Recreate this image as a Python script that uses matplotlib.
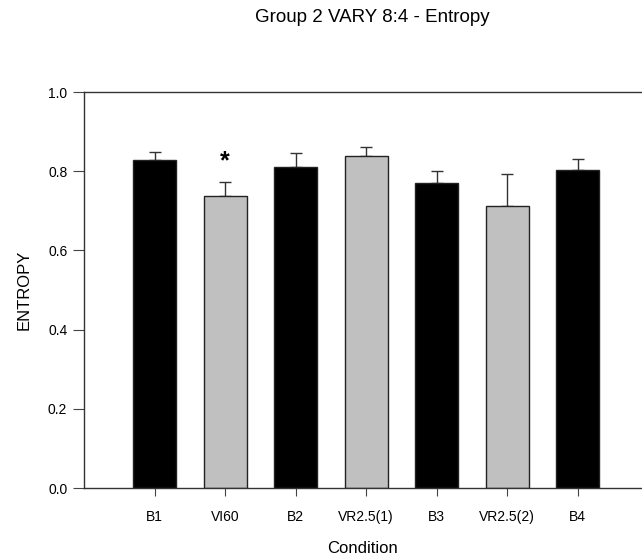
import matplotlib
matplotlib.use("Agg")
import matplotlib.pyplot as plt
import numpy as np

plt.rcParams['font.family'] = ['Liberation Sans', 'DejaVu Sans']

conditions = ['B1', 'VI60', 'B2', 'VR2.5(1)', 'B3', 'VR2.5(2)', 'B4']
entropy = [0.828, 0.737, 0.811, 0.838, 0.769, 0.712, 0.803]
sem = [0.020, 0.035, 0.036, 0.022, 0.032, 0.082, 0.029]
bar_colors = ['black', '#c0c0c0', 'black', '#c0c0c0', 'black', '#c0c0c0', 'black']
significant = [False, True, False, False, False, False, False]

fig = plt.figure(figsize=(6.42, 5.60), dpi=100)
ax = fig.add_axes([84 / 642, 72 / 560, 1 - 84 / 642, 396 / 560])

x = np.arange(1, len(conditions) + 1)
ax.bar(x, entropy, width=0.61, color=bar_colors, edgecolor='#222222', linewidth=1.0, zorder=2)
ax.errorbar(x, entropy, yerr=[np.zeros(len(sem)), sem], fmt='none', ecolor='#333333',
            elinewidth=1.0, capsize=4.5, capthick=1.0, zorder=1)

for xi, val, err, sig in zip(x, entropy, sem, significant):
    if sig:
        ax.text(xi, val + err + 0.052, '*', ha='center', va='center', fontsize=18, fontweight='bold')

ax.set_xlim(0, 7.91)
ax.set_ylim(0, 1.0)
ax.set_yticks([0.0, 0.2, 0.4, 0.6, 0.8, 1.0])
ax.set_yticklabels(['0.0', '0.2', '0.4', '0.6', '0.8', '1.0'])
ax.set_xticks(x)
ax.set_xticklabels(conditions)
ax.tick_params(axis='both', direction='out', labelsize=10, color='#444444')
ax.tick_params(axis='y', length=8, pad=4)
ax.tick_params(axis='x', length=6, pad=10)

ax.spines['right'].set_visible(False)
for s in ['left', 'top', 'bottom']:
    ax.spines[s].set_color('#333333')
    ax.spines[s].set_linewidth(1.0)

ax.set_ylabel('ENTROPY', fontsize=12, labelpad=12)
ax.set_xlabel('Condition', fontsize=12, labelpad=12)
fig.text(372 / 642, 1 - 17 / 560, 'Group 2 VARY 8:4 - Entropy', ha='center', va='center', fontsize=13.5)

fig.savefig('out.png', dpi=100)
